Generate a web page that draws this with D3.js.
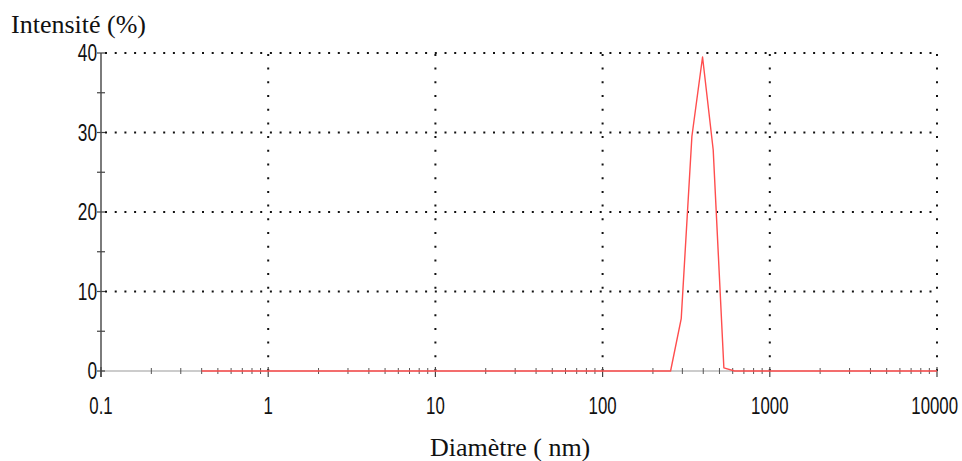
<!DOCTYPE html>
<html>
<head>
<meta charset="utf-8">
<script src="https://cdn.jsdelivr.net/npm/d3@7"></script>
<style>
  html, body { margin: 0; padding: 0; background: #fff; }
  svg { display: block; }
</style>
</head>
<body>
<div class="chart"></div>
<script>
// size bins (nm) and intensity (%)
var sizes = [0.4, 255.0, 295.3, 342.0, 396.1, 458.7, 531.2, 615.1, 10000];
var intensity = [0, 0, 6.6, 29.5, 39.5, 27.8, 0.4, 0, 0];

var xTicks = [0.1, 1, 10, 100, 1000, 10000];
var xTickLabels = ["0.1", "1", "10", "100", "1000", "10000"];
var yTicks = [0, 10, 20, 30, 40];
var yMinor = [5, 15, 25, 35];

var width = 962, height = 461;

var svg = d3.select(".chart").append("svg")
  .attr("width", width)
  .attr("height", height);

var x = d3.scaleLog().domain([0.1, 10000]).range([101, 937]);
var y = d3.scaleLinear().domain([0, 40]).range([371, 53]);

// minor x ticks, 2..9 of every decade
var xMinor = [];
xTicks.slice(0, -1).forEach(function(d) {
  for (var k = 2; k <= 9; k++) xMinor.push(d * k);
});

// dotted grid
svg.append("g").selectAll("line")
  .data(yTicks.slice(1))
  .enter().append("line")
  .attr("x1", x(0.1) + 4).attr("x2", x(10000))
  .attr("y1", function(d) { return y(d); })
  .attr("y2", function(d) { return y(d); })
  .attr("stroke", "#111")
  .attr("stroke-width", 2)
  .attr("stroke-dasharray", "2,7.7");

svg.append("g").selectAll("line")
  .data(xTicks.slice(1))
  .enter().append("line")
  .attr("x1", function(d) { return x(d); })
  .attr("x2", function(d) { return x(d); })
  .attr("y1", y(0)).attr("y2", y(40))
  .attr("stroke", "#111")
  .attr("stroke-width", 2)
  .attr("stroke-dasharray", "2,11.7");

// x axis line + ticks
svg.append("line")
  .attr("x1", x(0.1)).attr("x2", x(10000))
  .attr("y1", y(0)).attr("y2", y(0))
  .attr("stroke", "#999").attr("stroke-width", 1.2);

svg.append("g").selectAll("line")
  .data(xMinor)
  .enter().append("line")
  .attr("x1", function(d) { return x(d); })
  .attr("x2", function(d) { return x(d); })
  .attr("y1", y(0) - 3).attr("y2", y(0) + 3)
  .attr("stroke", "#555").attr("stroke-width", 1);

svg.append("g").selectAll("line")
  .data(xTicks)
  .enter().append("line")
  .attr("x1", function(d) { return x(d); })
  .attr("x2", function(d) { return x(d); })
  .attr("y1", y(0) - 4).attr("y2", y(0) + 6)
  .attr("stroke", "#444").attr("stroke-width", 1.2);

// y axis line + ticks
svg.append("line")
  .attr("x1", x(0.1)).attr("x2", x(0.1))
  .attr("y1", y(0) + 6).attr("y2", y(40))
  .attr("stroke", "#444").attr("stroke-width", 1.4);

svg.append("g").selectAll("line")
  .data(yTicks)
  .enter().append("line")
  .attr("x1", x(0.1) - 4).attr("x2", x(0.1) + 4)
  .attr("y1", function(d) { return y(d); })
  .attr("y2", function(d) { return y(d); })
  .attr("stroke", "#444").attr("stroke-width", 1.2);

svg.append("g").selectAll("line")
  .data(yMinor)
  .enter().append("line")
  .attr("x1", x(0.1) - 4).attr("x2", x(0.1) + 4)
  .attr("y1", function(d) { return y(d); })
  .attr("y2", function(d) { return y(d); })
  .attr("stroke", "#444").attr("stroke-width", 1.2);

// the distribution
var line = d3.line()
  .x(function(d, i) { return x(d); })
  .y(function(d, i) { return y(intensity[i]); });

svg.append("path")
  .datum(sizes)
  .attr("d", line)
  .attr("fill", "none")
  .attr("stroke", "#ff4d4d")
  .attr("stroke-width", 1.4)
  .attr("stroke-linejoin", "round");

// narrow tick labels: horizontal squeeze by transform
svg.append("g").selectAll("text")
  .data(xTicks)
  .enter().append("text")
  .attr("transform", function(d, i) {
    var px = i == xTicks.length - 1 ? 958 : x(d);
    return "translate(" + px + ",414) scale(0.7,1)";
  })
  .attr("text-anchor", function(d, i) { return i == xTicks.length - 1 ? "end" : "middle"; })
  .attr("font-family", "Liberation Sans, Arial, sans-serif")
  .attr("font-size", 24)
  .attr("fill", "#111")
  .text(function(d, i) { return xTickLabels[i]; });

svg.append("g").selectAll("text")
  .data(yTicks)
  .enter().append("text")
  .attr("transform", function(d) {
    return "translate(97," + (y(d) + 8) + ") scale(0.72,1)";
  })
  .attr("text-anchor", "end")
  .attr("font-family", "Liberation Sans, Arial, sans-serif")
  .attr("font-size", 24)
  .attr("fill", "#111")
  .text(function(d) { return d; });

// titles
svg.append("text")
  .attr("x", 11)
  .attr("y", 33)
  .attr("font-family", "Liberation Serif, Times New Roman, serif")
  .attr("font-size", 26)
  .attr("fill", "#111")
  .text("Intensité (%)");

svg.append("text")
  .attr("x", 430)
  .attr("y", 456)
  .attr("font-family", "Liberation Serif, Times New Roman, serif")
  .attr("font-size", 26)
  .attr("fill", "#111")
  .text("Diamètre ( nm)");
</script>
</body>
</html>
